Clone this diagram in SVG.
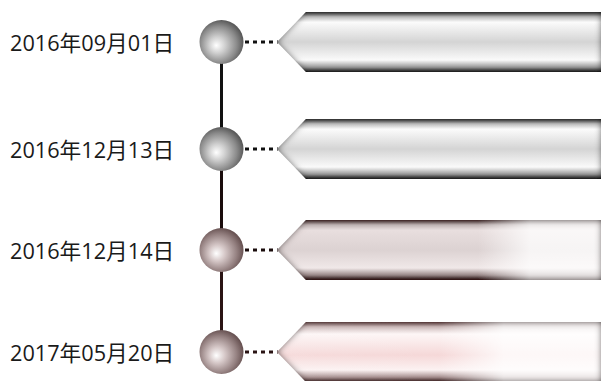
<svg xmlns="http://www.w3.org/2000/svg" width="602" height="381" viewBox="0 0 602 381">
<style>
.lbl{font-family:"Open Sans","Noto Sans CJK SC",sans-serif;font-size:21.7px;fill:#1a1a1a}
.dash{stroke-width:3;stroke-dasharray:4 4;fill:none}
</style>
<defs>
<radialGradient id="sg" cx="45%" cy="55%" r="60%" fx="38%" fy="58%">
<stop offset="0" stop-color="#ffffff"/><stop offset="0.3" stop-color="#d0d0d0"/><stop offset="0.7" stop-color="#8a8a8a"/><stop offset="1" stop-color="#4a4a4a"/>
</radialGradient>
<radialGradient id="sb" cx="45%" cy="55%" r="60%" fx="38%" fy="58%">
<stop offset="0" stop-color="#ffffff"/><stop offset="0.3" stop-color="#d6c8c8"/><stop offset="0.7" stop-color="#948080"/><stop offset="1" stop-color="#5a4444"/>
</radialGradient>
<linearGradient id="v1" x1="0" y1="0" x2="0" y2="1">
<stop offset="0" stop-color="#3a3a3a"/><stop offset="0.08" stop-color="#bdbdbd"/><stop offset="0.17" stop-color="#fbfbfb"/><stop offset="0.5" stop-color="#d4d4d4"/><stop offset="0.8" stop-color="#fafafa"/><stop offset="0.92" stop-color="#9a9a9a"/><stop offset="1" stop-color="#1e1e1e"/>
</linearGradient>
<linearGradient id="v3" x1="0" y1="0" x2="0" y2="1">
<stop offset="0" stop-color="#4a3434"/><stop offset="0.08" stop-color="#c0b4b4"/><stop offset="0.17" stop-color="#e8dede"/><stop offset="0.5" stop-color="#dcd2d2"/><stop offset="0.8" stop-color="#f0e8e8"/><stop offset="0.92" stop-color="#9a8888"/><stop offset="1" stop-color="#2a1414"/>
</linearGradient>
<linearGradient id="v4" x1="0" y1="0" x2="0" y2="1">
<stop offset="0" stop-color="#6a4a4a"/><stop offset="0.08" stop-color="#cdbaba"/><stop offset="0.2" stop-color="#fdf6f6"/><stop offset="0.55" stop-color="#f5d8d8"/><stop offset="0.8" stop-color="#fcf2f2"/><stop offset="0.92" stop-color="#a89090"/><stop offset="1" stop-color="#3a2020"/>
</linearGradient>
<linearGradient id="hw" x1="0" y1="0" x2="1" y2="0">
<stop offset="0" stop-color="#fff" stop-opacity="0"/><stop offset="0.62" stop-color="#fff" stop-opacity="0"/><stop offset="0.78" stop-color="#fff" stop-opacity="0.9"/><stop offset="1" stop-color="#fff" stop-opacity="0.9"/>
</linearGradient>
<linearGradient id="hw4" x1="0" y1="0" x2="1" y2="0">
<stop offset="0" stop-color="#fff" stop-opacity="0.1"/><stop offset="0.5" stop-color="#fff" stop-opacity="0"/><stop offset="0.7" stop-color="#fff" stop-opacity="0.95"/><stop offset="1" stop-color="#fff" stop-opacity="0.95"/>
</linearGradient>
<filter id="bg" x="-5%" y="-20%" width="110%" height="140%">
<feComponentTransfer in="SourceAlpha" result="inv"><feFuncA type="table" tableValues="1 0"/></feComponentTransfer>
<feGaussianBlur in="inv" stdDeviation="3" result="b"/>
<feFlood flood-color="#111"/>
<feComposite in2="b" operator="in"/>
<feComposite in2="SourceAlpha" operator="in" result="inner"/>
<feMerge><feMergeNode in="SourceGraphic"/><feMergeNode in="inner"/></feMerge>
</filter>
<filter id="bb" x="-5%" y="-20%" width="110%" height="140%">
<feComponentTransfer in="SourceAlpha" result="inv"><feFuncA type="table" tableValues="1 0"/></feComponentTransfer>
<feGaussianBlur in="inv" stdDeviation="3" result="b"/>
<feFlood flood-color="#2a0e0e"/>
<feComposite in2="b" operator="in"/>
<feComposite in2="SourceAlpha" operator="in" result="inner"/>
<feMerge><feMergeNode in="SourceGraphic"/><feMergeNode in="inner"/></feMerge>
</filter>
</defs>
<rect width="602" height="381" fill="#fff"/>
<g id="connectors">
<line x1="221.5" y1="60" x2="221.5" y2="135" stroke="#111" stroke-width="3"/>
<line x1="221.5" y1="165" x2="221.5" y2="235" stroke="#1a0c0c" stroke-width="3"/>
<line x1="221.5" y1="265" x2="221.5" y2="335" stroke="#2a1414" stroke-width="3"/>
<line class="dash" x1="245" y1="42" x2="278" y2="42" stroke="#111"/>
<line class="dash" x1="245" y1="149" x2="278" y2="149" stroke="#111"/>
<line class="dash" x1="245" y1="250" x2="278" y2="250" stroke="#1a0c0c"/>
<line class="dash" x1="245" y1="352" x2="278" y2="352" stroke="#2a1414"/>
</g>
<g id="node1">
<text class="lbl" x="10" y="51">2016年09月01日</text>
<circle cx="221.5" cy="42" r="22" fill="url(#sg)"/>
<polygon points="277,42 306,12 601,12 601,72 306,72" fill="url(#v1)" filter="url(#bg)"/>
</g>
<g id="node2">
<text class="lbl" x="10" y="158">2016年12月13日</text>
<circle cx="221.5" cy="149" r="22" fill="url(#sg)"/>
<polygon points="277,149 306,119 601,119 601,179 306,179" fill="url(#v1)" filter="url(#bg)"/>
</g>
<g id="node3">
<text class="lbl" x="10" y="259">2016年12月14日</text>
<circle cx="221.5" cy="250" r="22" fill="url(#sb)"/>
<g filter="url(#bb)">
<polygon points="277,250 306,220 601,220 601,280 306,280" fill="url(#v3)"/>
<polygon points="277,250 306,220 601,220 601,280 306,280" fill="url(#hw)" opacity="0.85"/>
</g>
</g>
<g id="node4">
<text class="lbl" x="10" y="361">2017年05月20日</text>
<circle cx="221.5" cy="352" r="22" fill="url(#sb)"/>
<g filter="url(#bb)">
<polygon points="277,352 306,322 601,322 601,382 306,382" fill="url(#v4)"/>
<polygon points="277,352 306,322 601,322 601,382 306,382" fill="url(#hw4)" opacity="0.85"/>
</g>
</g>
</svg>
